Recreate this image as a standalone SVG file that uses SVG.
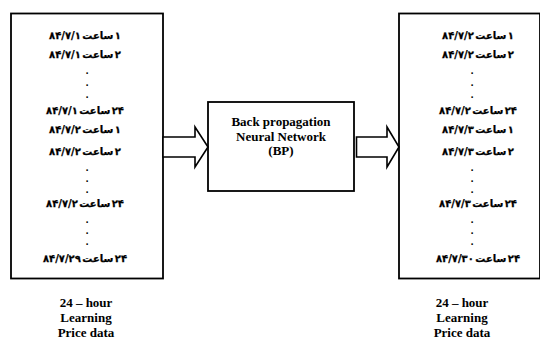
<svg xmlns="http://www.w3.org/2000/svg" width="540" height="338" viewBox="0 0 540 338">
  <style>
    .box { fill: #fff; stroke: #000; stroke-width: 1.8; }
    .arrow { fill: #fff; stroke: #000; stroke-width: 1.6; stroke-linejoin: miter; }
    .fa { font-family: "DejaVu Sans", "Noto Sans", sans-serif; font-weight: bold; font-size: 10px; word-spacing: -2px; text-anchor: middle; fill: #000; stroke: #000; stroke-width: 0.25; }
    .dot { font-family: "DejaVu Sans", sans-serif; font-weight: bold; font-size: 8.5px; text-anchor: middle; fill: #000; }
    .en { font-family: "Liberation Serif", "Times New Roman", serif; font-weight: bold; font-size: 13px; text-anchor: middle; fill: #000; }
  </style>
  <rect width="540" height="338" fill="#fff"/>

  <!-- input data column -->
  <g id="input-data">
    <rect class="box" x="11" y="13.5" width="152" height="265"/>
    <text class="fa" x="85" y="39">۸۴/۷/۱ ساعت &#x200E;۱</text>
    <text class="fa" x="85" y="58">۸۴/۷/۱ ساعت &#x200E;۲</text>
    <text class="dot" x="87" y="74">.</text>
    <text class="dot" x="87" y="86">.</text>
    <text class="dot" x="87" y="98">.</text>
    <text class="fa" x="85" y="114">۸۴/۷/۱ ساعت &#x200E;۲۴</text>
    <text class="fa" x="85" y="133">۸۴/۷/۲ ساعت &#x200E;۱</text>
    <text class="fa" x="85" y="155">۸۴/۷/۲ ساعت &#x200E;۲</text>
    <text class="dot" x="87" y="171">.</text>
    <text class="dot" x="87" y="182">.</text>
    <text class="dot" x="87" y="193">.</text>
    <text class="fa" x="85" y="207">۸۴/۷/۲ ساعت &#x200E;۲۴</text>
    <text class="dot" x="87" y="223">.</text>
    <text class="dot" x="87" y="234">.</text>
    <text class="dot" x="87" y="245">.</text>
    <text class="fa" x="85" y="262">۸۴/۷/۲۹ ساعت &#x200E;۲۴</text>
  </g>

  <!-- network block -->
  <g id="bp-network">
    <rect class="box" x="208" y="102" width="146" height="89"/>
    <text class="en" x="281" y="126">Back propagation</text>
    <text class="en" x="281" y="140.5">Neural Network</text>
    <text class="en" x="281" y="155">(BP)</text>
  </g>

  <!-- output data column -->
  <g id="output-data">
    <rect class="box" x="399" y="13.5" width="141" height="265"/>
    <text class="fa" x="478" y="39">۸۴/۷/۲ ساعت &#x200E;۱</text>
    <text class="fa" x="478" y="58">۸۴/۷/۲ ساعت &#x200E;۲</text>
    <text class="dot" x="472" y="74">.</text>
    <text class="dot" x="472" y="86">.</text>
    <text class="dot" x="472" y="98">.</text>
    <text class="fa" x="478" y="114">۸۴/۷/۲ ساعت &#x200E;۲۴</text>
    <text class="fa" x="478" y="133">۸۴/۷/۳ ساعت &#x200E;۱</text>
    <text class="fa" x="478" y="155">۸۴/۷/۳ ساعت &#x200E;۲</text>
    <text class="dot" x="472" y="171">.</text>
    <text class="dot" x="472" y="182">.</text>
    <text class="dot" x="472" y="193">.</text>
    <text class="fa" x="478" y="207">۸۴/۷/۳ ساعت &#x200E;۲۴</text>
    <text class="dot" x="472" y="223">.</text>
    <text class="dot" x="472" y="234">.</text>
    <text class="dot" x="472" y="245">.</text>
    <text class="fa" x="478" y="262">۸۴/۷/۳۰ ساعت &#x200E;۲۴</text>
  </g>

  <!-- captions -->
  <g id="input-caption">
    <text class="en" x="86" y="306.5">24 – hour</text>
    <text class="en" x="86" y="321.5">Learning</text>
    <text class="en" x="86" y="336.5">Price data</text>
  </g>
  <g id="output-caption">
    <text class="en" x="462" y="306.5">24 – hour</text>
    <text class="en" x="462" y="321.5">Learning</text>
    <text class="en" x="462" y="336.5">Price data</text>
  </g>

  <!-- block arrows -->
  <g id="connectors">
    <polygon class="arrow" points="163,137 195,137 195,127 208,147 195,167 195,157 163,157"/>
    <polygon class="arrow" points="356.5,137 387,137 387,127 399,147 387,167 387,157 356.5,157"/>
  </g>
</svg>
